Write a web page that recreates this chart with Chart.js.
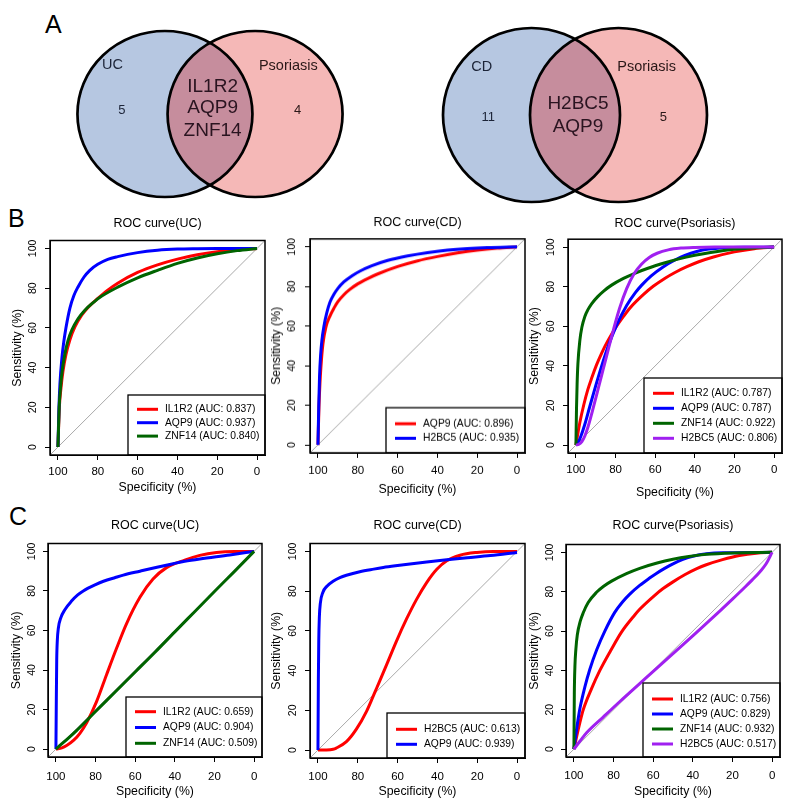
<!DOCTYPE html>
<html>
<head>
<meta charset="utf-8">
<script src="https://cdn.jsdelivr.net/npm/chart.js@4.4.1/dist/chart.umd.min.js"></script>
<style>
html,body{margin:0;padding:0;background:#fff;width:792px;height:806px;overflow:hidden;position:relative;font-family:'Liberation Sans',Arial,sans-serif;}
canvas{position:absolute;}
.lab{position:absolute;font-size:25px;line-height:25px;color:#000;}
</style>
</head>
<body>
<div class="lab" style="left:45px;top:12px">A</div>
<div class="lab" style="left:8px;top:206px">B</div>
<div class="lab" style="left:9px;top:504px">C</div>
<script>
// ---------------- DATA ----------------
const specTicks = [100, 80, 60, 40, 20, 0];
const sensTicks = [0, 20, 40, 60, 80, 100];

// Panel A – Venn diagrams
const vennL_sets = ['UC', 'Psoriasis'];
const vennL_only = [5, 4];
const vennL_shared = ['IL1R2', 'AQP9', 'ZNF14'];
const vennR_sets = ['CD', 'Psoriasis'];
const vennR_only = [11, 5];
const vennR_shared = ['H2BC5', 'AQP9'];

// Panel B – ROC curve(UC)   points: [specificity, sensitivity]
const bUC_genes = ['IL1R2', 'AQP9', 'ZNF14'];
const bUC_auc = [0.837, 0.937, 0.840];
const bUC_IL1R2 = [[100,0],[99.3,20],[98.5,29.5],[97.5,38],[96,46.5],[94,54],[91.5,60.5],[88,66.5],[85,70.2],[80,74.8],[75,79],[70,82.5],[60,87.9],[50,91.7],[40,94.6],[30,96.8],[20,98.4],[10,99.5],[0,100]];
const bUC_AQP9 = [[100,0],[99.5,20],[99,32],[98,45],[97,53.5],[96,60],[94,70],[92,76.3],[90,80.5],[87,85.5],[84,89],[80,92],[75,94.5],[70,95.9],[60,97.9],[50,99.1],[40,99.7],[30,99.9],[20,100],[0,100]];
const bUC_ZNF14 = [[100,0],[99.4,20],[98.8,29],[98,37.5],[96.5,47],[95,53.5],[93,59],[90,64.5],[86.6,68.8],[82,73],[78,76],[70,80.5],[60,85.2],[50,89],[40,92.5],[30,95.2],[20,97.3],[10,98.9],[0,100]];

// Panel B – ROC curve(CD)
const bCD_genes = ['AQP9', 'H2BC5'];
const bCD_auc = [0.896, 0.935];
const bCD_AQP9 = [[100,0],[99.5,19],[99,31],[98.5,39.5],[97.5,51],[96,59.5],[94,65],[92,69],[90,72.3],[87,75.8],[84,78.5],[80,81.3],[75,84],[70,86.3],[60,90],[50,92.9],[40,95.1],[30,96.9],[20,98.3],[10,99.3],[0,100]];
const bCD_H2BC5 = [[100,0],[99.6,20],[99.2,35],[98.7,45],[98,53],[97,60],[95.5,67],[94,72],[92,76],[90,79],[87,82.3],[83,85.3],[79,87.7],[73,90.4],[65,93.1],[55,95.4],[45,97.1],[35,98.3],[25,99.1],[15,99.6],[0,100]];

// Panel B – ROC curve(Psoriasis)
const bPso_genes = ['IL1R2', 'AQP9', 'ZNF14', 'H2BC5'];
const bPso_auc = [0.787, 0.787, 0.922, 0.806];
const bPso_IL1R2 = [[100,0],[99,6],[98,11.5],[96,20.5],[94,28],[92,34],[89.6,40.5],[87,46.5],[84,52.5],[79.5,60],[76,65],[72.7,69.3],[66,76],[61,80.2],[55,84.3],[50,87.2],[44,90.1],[38,92.6],[30.6,95],[20,97.6],[10,99.2],[0,100]];
const bPso_AQP9 = [[100,0],[99,1.2],[97.5,4.5],[95.5,10.5],[93,19.5],[90,30],[87,40],[83.5,50.5],[79.5,60.5],[74.4,70.5],[70,77],[66.8,80.8],[62,85.5],[56,90],[50,93.5],[45,95.8],[39,97.8],[33,99],[25,99.7],[15,99.95],[0,100]];
const bPso_ZNF14 = [[100,0],[99.7,19],[99.4,31],[99,41],[98,53],[97,59.5],[95.5,65],[94,68.3],[92,71.5],[89,75],[86,77.8],[82,80.8],[76,84.2],[70,86.9],[64,89.2],[55,92.1],[49,93.8],[40,95.9],[32,97.3],[20,98.9],[10,99.6],[0,100]];
const bPso_H2BC5 = [[100,0],[98.5,0.4],[97,1.8],[95.5,4.6],[93.8,9.5],[91.2,19],[88.5,29.5],[86.2,38.5],[83.5,49],[81,58.5],[78,69],[74.4,79],[70.5,86.8],[66.8,91.5],[63,94.8],[59,96.9],[53.4,98.6],[47,99.5],[40,99.85],[30,100],[0,100]];

// Panel C – ROC curve(UC)
const cUC_genes = ['IL1R2', 'AQP9', 'ZNF14'];
const cUC_auc = [0.659, 0.904, 0.509];
const cUC_IL1R2 = [[100,0],[97,0.6],[94.6,1.8],[91,4.5],[87.9,8],[84.5,13.3],[79.5,24],[74.5,37.5],[69.4,51],[64.4,63.4],[57.6,76.8],[51,86],[44.2,91.8],[35,95.6],[27.4,98],[19,99.5],[10,100],[0,100]];
const cUC_AQP9 = [[100,0],[99.8,25],[99.6,45],[99.3,55],[98.8,61],[97.5,66.5],[95.5,70.5],[92,75],[89,78],[86.2,80],[80,83.2],[76,84.9],[70,86.8],[66,88],[57.6,90],[49,92],[40.8,93.8],[35,95],[27.4,96.2],[12.3,98.2],[0,100]];
const cUC_ZNF14 = [[100,0],[90,9],[80,19],[70,29],[60,39],[50,49],[40,59.3],[30,69.5],[20,79.7],[10,89.8],[0,100]];

// Panel C – ROC curve(CD)
const cCD_genes = ['H2BC5', 'AQP9'];
const cCD_auc = [0.613, 0.939];
const cCD_H2BC5 = [[100,0],[96,0.05],[92.4,0.4],[90.8,1],[85.7,4.2],[80.7,10.5],[75.6,19.5],[72.3,27],[70.6,31],[65.5,43],[60.5,55],[55.5,66],[50.4,76],[45.4,84.3],[40.3,91],[35.3,95.3],[28.6,98.1],[20.2,99.5],[11.8,100],[0,100]];
const cCD_AQP9 = [[100,0],[99.8,35],[99.6,55],[99.3,67],[98.8,74],[97.5,79.5],[95.5,82.5],[92.4,85],[89,86.8],[85.7,88],[79,89.8],[72,91.1],[67.2,91.9],[60,92.9],[53.8,93.7],[45.4,94.7],[35.3,95.8],[25,96.8],[13.4,97.9],[0,99.5]];

// Panel C – ROC curve(Psoriasis)
const cPso_genes = ['IL1R2', 'AQP9', 'ZNF14', 'H2BC5'];
const cPso_auc = [0.756, 0.829, 0.932, 0.517];
const cPso_IL1R2 = [[100,0],[98.5,7],[97,13.5],[95.3,20],[91,31],[86.9,40],[81.5,50],[76,59.5],[69.3,68.2],[66.8,71.1],[59.2,78.2],[55,81.6],[50,85],[44.1,88.6],[38,91.7],[33.2,93.7],[25,96.3],[16.5,98.4],[8,99.6],[0,100]];
const cPso_AQP9 = [[100,0],[99,7.5],[98,14.5],[97,20.5],[94.5,31.5],[92,40.5],[88.5,50.5],[84.4,60],[79.4,69.5],[75.5,74.8],[71.8,78.8],[66.8,83.2],[62,86.8],[58.4,89.3],[54,92],[50,94.2],[45,96.4],[40,98],[33,99.3],[25,99.85],[0,100]];
const cPso_ZNF14 = [[100,0],[99.8,28],[99.5,42],[99,51],[98.3,58],[96.8,65],[95.3,69.3],[92.8,74.5],[88.6,79.7],[85,82.8],[81,85.4],[73.5,89.2],[66.8,91.9],[58,94.6],[50,96.5],[42,97.9],[33,99],[20,99.7],[0,100]];
const cPso_H2BC5 = [[100,0],[97,4],[93.6,8.3],[85.2,16.3],[76.8,24.2],[66.8,33.3],[58,41.3],[50,48.5],[42,55.8],[33,64],[26,70.5],[20,76.2],[14,82],[10,86],[6,90.3],[3,94.2],[0,100]];

// ---------------- STYLE ----------------
const FONT = "'Liberation Sans', Arial, sans-serif";
Chart.defaults.font.family = FONT;
Chart.defaults.color = '#000';
Chart.defaults.animation = false;

const RED = '#ff0000', BLUE = '#0000ff', GREEN = '#006400', PURPLE = '#a020f0';

// ---------------- ROC decorations (legend, box, rotated y labels) ----------------
const rocDecor = {
  id: 'rocDecor',
  afterDatasetsDraw(chart) {
    const o = chart.options.plugins.rocDecor;
    if (!o) return;
    const ctx = chart.ctx, ca = chart.chartArea;
    ctx.save();
    const items = chart.data.datasets.filter(d => !d.isDiag);
    const lx = ca.right - o.legW, ly = ca.bottom - o.legH;
    ctx.fillStyle = '#fff';
    ctx.fillRect(lx, ly, o.legW, o.legH);
    ctx.strokeStyle = '#000'; ctx.lineWidth = 1.3;
    ctx.strokeRect(lx, ly, o.legW, o.legH);
    ctx.font = '10.3px ' + FONT;
    ctx.textBaseline = 'middle'; ctx.textAlign = 'left';
    items.forEach((d, i) => {
      const y = ly + o.legTop + i * o.legGap;
      ctx.strokeStyle = d.borderColor; ctx.lineWidth = 3; ctx.lineCap = 'butt';
      ctx.beginPath(); ctx.moveTo(lx + 9, y); ctx.lineTo(lx + 30, y); ctx.stroke();
      ctx.fillStyle = '#000';
      ctx.fillText(d.label, lx + 37, y);
    });
    ctx.strokeStyle = '#000'; ctx.lineWidth = 1.5;
    ctx.strokeRect(ca.left, ca.top, ca.right - ca.left, ca.bottom - ca.top);
    const ys = chart.scales.y;
    ctx.font = '10.5px ' + FONT;
    ctx.textAlign = 'center'; ctx.textBaseline = 'middle'; ctx.fillStyle = '#000';
    ys.ticks.forEach(t => {
      const py = ys.getPixelForValue(t.value);
      ctx.save();
      ctx.translate(ca.left - o.yTickGap, py);
      ctx.rotate(-Math.PI / 2);
      ctx.fillText(String(t.value), 0, 0);
      ctx.restore();
    });
    ctx.restore();
  }
};

function makeRoc(s) {
  const [bl, bt, bw, bh] = s.box;
  const titleH = s.titleGap + 9.5;
  const XH = 50, YW = 45;
  const cl = bl - YW - 5, ct = bt - titleH;
  const cw = 5 + YW + bw + 8, ch = titleH + bh + XH + 2;
  const cv = document.createElement('canvas');
  cv.width = cw; cv.height = ch;
  cv.style.left = cl + 'px'; cv.style.top = ct + 'px';
  cv.style.width = cw + 'px'; cv.style.height = ch + 'px';
  document.body.appendChild(cv);

  const datasets = [{
    isDiag: true, label: 'diag',
    data: [{x: 104, y: -4}, {x: -4, y: 104}],
    borderColor: '#a9a9a9', borderWidth: 1, pointRadius: 0, order: 100
  }];
  s.curves.forEach((c, i) => datasets.push({
    label: s.genes[i] + ' (AUC: ' + s.aucs[i].toFixed(3) + ')',
    data: c.map(p => ({x: p[0], y: p[1]})),
    borderColor: s.colors[i], borderWidth: 3, pointRadius: 0,
    cubicInterpolationMode: 'monotone', fill: false, order: 50 - i
  }));

  new Chart(cv, {
    type: 'line',
    data: {datasets},
    options: {
      responsive: false, animation: false, devicePixelRatio: 1,
      layout: {padding: {left: 5, right: 8, top: 0, bottom: 2}},
      plugins: {
        legend: {display: false}, tooltip: {enabled: false},
        title: {display: true, text: s.title, fullSize: false, color: '#000',
          font: {size: 12.5, weight: 'normal', family: FONT},
          padding: {top: 2, bottom: titleH - 17}},
        rocDecor: {legW: s.legW, legH: s.legH, legTop: s.legTop, legGap: s.legGap, yTickGap: s.yTickGap}
      },
      scales: {
        x: {
          type: 'linear', reverse: true, min: -4, max: 104,
          afterBuildTicks: sc => { sc.ticks = specTicks.map(v => ({value: v})); },
          afterFit: sc => { sc.height = XH; },
          grid: {display: true, drawOnChartArea: false, drawTicks: true, tickLength: 5, color: '#000', lineWidth: 1},
          border: {display: true, color: '#000', width: 1},
          ticks: {font: {size: 11.5}, color: '#000', padding: s.xTickGap - 5 - 6.9, maxRotation: 0, autoSkip: false},
          title: {display: true, text: 'Specificity (%)', color: '#000', font: {size: 12.3},
            padding: {top: 0, bottom: XH - s.xLabGap - 7.38}}
        },
        y: {
          type: 'linear', min: -4, max: 104,
          afterBuildTicks: sc => { sc.ticks = sensTicks.map(v => ({value: v})); },
          afterFit: sc => { sc.width = YW; },
          grid: {display: true, drawOnChartArea: false, drawTicks: true, tickLength: 5, color: '#000', lineWidth: 1},
          border: {display: true, color: '#000', width: 1},
          ticks: {display: false},
          title: {display: true, text: 'Sensitivity (%)', color: '#000', font: {size: 12.3},
            padding: {top: YW - s.yLabGap - 7.38, bottom: 0}}
        }
      }
    },
    plugins: [rocDecor]
  });
}

const rocSpecs = [
  {box: [50, 240, 215, 215], title: 'ROC curve(UC)', genes: bUC_genes, aucs: bUC_auc,
   curves: [bUC_IL1R2, bUC_AQP9, bUC_ZNF14], colors: [RED, BLUE, GREEN],
   titleGap: 17, xTickGap: 17, xLabGap: 33, yTickGap: 17, yLabGap: 32,
   legW: 137, legH: 60, legTop: 14.3, legGap: 13.4},
  {box: [310, 239, 215, 214], title: 'ROC curve(CD)', genes: bCD_genes, aucs: bCD_auc,
   curves: [bCD_AQP9, bCD_H2BC5], colors: [RED, BLUE],
   titleGap: 16.3, xTickGap: 17.7, xLabGap: 37, yTickGap: 18, yLabGap: 33,
   legW: 139, legH: 45, legTop: 16, legGap: 14.5},
  {box: [568, 239, 214, 214], title: 'ROC curve(Psoriasis)', genes: bPso_genes, aucs: bPso_auc,
   curves: [bPso_IL1R2, bPso_AQP9, bPso_ZNF14, bPso_H2BC5], colors: [RED, BLUE, GREEN, PURPLE],
   titleGap: 15.7, xTickGap: 17, xLabGap: 40, yTickGap: 17, yLabGap: 33,
   legW: 138, legH: 75, legTop: 15.3, legGap: 15},
  {box: [48, 543, 214, 214], title: 'ROC curve(UC)', genes: cUC_genes, aucs: cUC_auc,
   curves: [cUC_IL1R2, cUC_AQP9, cUC_ZNF14], colors: [RED, BLUE, GREEN],
   titleGap: 18, xTickGap: 19.7, xLabGap: 34.7, yTickGap: 16, yLabGap: 31,
   legW: 136, legH: 60, legTop: 14.7, legGap: 15.8},
  {box: [310, 543, 215, 215], title: 'ROC curve(CD)', genes: cCD_genes, aucs: cCD_auc,
   curves: [cCD_H2BC5, cCD_AQP9], colors: [RED, BLUE],
   titleGap: 18, xTickGap: 18.7, xLabGap: 33.7, yTickGap: 17, yLabGap: 33,
   legW: 138, legH: 45, legTop: 16.3, legGap: 15},
  {box: [566, 544, 214, 213], title: 'ROC curve(Psoriasis)', genes: cPso_genes, aucs: cPso_auc,
   curves: [cPso_IL1R2, cPso_AQP9, cPso_ZNF14, cPso_H2BC5], colors: [RED, BLUE, GREEN, PURPLE],
   titleGap: 19, xTickGap: 19, xLabGap: 34.7, yTickGap: 16, yLabGap: 31,
   legW: 137, legH: 74, legTop: 16, legGap: 15}
];
rocSpecs.forEach(makeRoc);

// ---------------- Venn diagrams ----------------
const vennPlugin = {
  id: 'venn',
  afterDatasetsDraw(chart) {
    const o = chart.options.plugins.venn;
    if (!o) return;
    const xs = chart.scales.x, ys = chart.scales.y, ctx = chart.ctx;
    const pts = chart.data.datasets[0].data;
    const rx = xs.getPixelForValue(1) - xs.getPixelForValue(0);
    const ry = ys.getPixelForValue(0) - ys.getPixelForValue(1);
    const C = pts.map(p => [xs.getPixelForValue(p.x), ys.getPixelForValue(p.y)]);
    const ell = c => { ctx.beginPath(); ctx.ellipse(c[0], c[1], rx, ry, 0, 0, Math.PI * 2); };
    ctx.save();
    ctx.fillStyle = '#b6c7e1'; ell(C[0]); ctx.fill();
    ctx.fillStyle = '#f5b8b7'; ell(C[1]); ctx.fill();
    ctx.save(); ell(C[0]); ctx.clip();
    ctx.fillStyle = '#c68d9d'; ell(C[1]); ctx.fill();
    ctx.restore();
    ctx.strokeStyle = '#000'; ctx.lineWidth = 2.7;
    ell(C[0]); ctx.stroke(); ell(C[1]); ctx.stroke();
    ctx.textAlign = 'center'; ctx.textBaseline = 'middle';
    o.texts.forEach(t => {
      ctx.font = t.size + 'px ' + FONT;
      ctx.fillStyle = t.color;
      ctx.fillText(String(t.text), xs.getPixelForValue(t.x), ys.getPixelForValue(t.y));
    });
    ctx.restore();
  }
};

function makeVenn(v) {
  const cv = document.createElement('canvas');
  cv.width = 300; cv.height = 190;
  cv.style.left = v.left + 'px'; cv.style.top = v.top + 'px';
  cv.style.width = '300px'; cv.style.height = '190px';
  document.body.appendChild(cv);
  const texts = [
    {text: v.sets[0], x: v.setPos[0][0], y: v.setPos[0][1], size: 14.5, color: '#1c2438'},
    {text: v.sets[1], x: v.setPos[1][0], y: v.setPos[1][1], size: 14.5, color: '#2a1818'},
    {text: v.only[0], x: v.onlyPos[0][0], y: v.onlyPos[0][1], size: 13, color: '#1c2438'},
    {text: v.only[1], x: v.onlyPos[1][0], y: v.onlyPos[1][1], size: 13, color: '#2a1818'}
  ];
  v.shared.forEach((g, i) => texts.push({text: g, x: v.sharedX, y: v.sharedY[i], size: 19, color: '#2a1420'}));
  new Chart(cv, {
    type: 'scatter',
    data: {datasets: [{data: [{x: -v.d / 2, y: 0}, {x: v.d / 2, y: 0}], pointRadius: 0}]},
    options: {
      responsive: false, animation: false, devicePixelRatio: 1,
      layout: {padding: 0},
      plugins: {legend: {display: false}, tooltip: {enabled: false}, venn: {texts}},
      scales: {
        x: {type: 'linear', display: false, min: -v.ax, max: v.ax},
        y: {type: 'linear', display: false, min: -v.ay, max: v.ay}
      }
    },
    plugins: [vennPlugin]
  });
}

makeVenn({left: 60, top: 19, ax: 150 / 87.5, ay: 95 / 83, d: 1.03,
  sets: vennL_sets, only: vennL_only, shared: vennL_shared,
  setPos: [[-1.114, 0.587], [0.895, 0.584]], onlyPos: [[-1.006, 0.048], [1.0, 0.039]],
  sharedX: 0.03, sharedY: [0.329, 0.075, -0.2]});
makeVenn({left: 425, top: 20, ax: 150 / 88.5, ay: 95 / 87, d: 0.983,
  sets: vennR_sets, only: vennR_only, shared: vennR_shared,
  setPos: [[-1.054, 0.546], [0.81, 0.548]], onlyPos: [[-0.98, -0.025], [0.998, -0.025]],
  sharedX: 0.034, sharedY: [0.129, -0.132]});
</script>
</body>
</html>
